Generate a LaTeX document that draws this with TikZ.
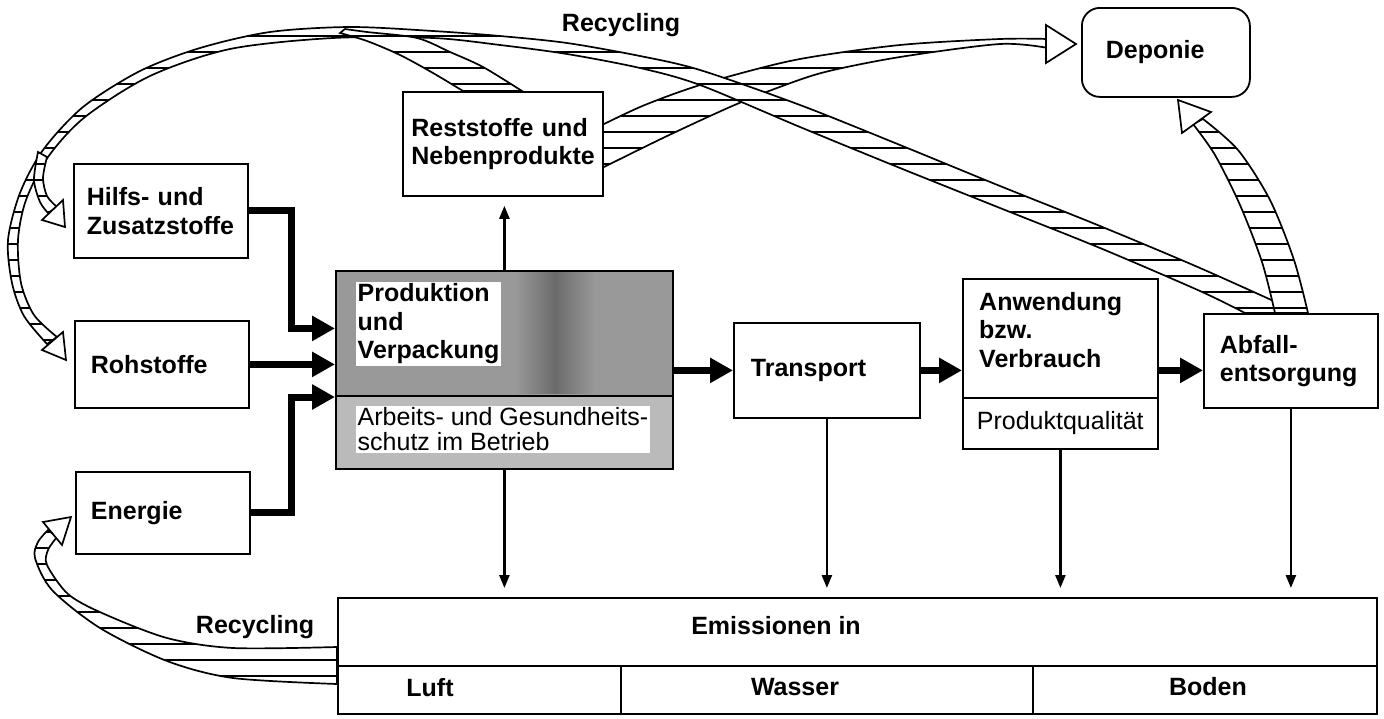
\documentclass[tikz,border=0pt]{standalone}
\usepackage{fontspec}
\setmainfont{Liberation Sans}
\usetikzlibrary{arrows.meta}
\hyphenpenalty=10000
\exhyphenpenalty=10000

\begin{document}
\begin{tikzpicture}[x=1pt,y=-1pt,
    every node/.style={font=\fontsize{25}{28.5}\selectfont\bfseries},
    txt/.style={inner sep=0pt, align=left},
    regtext/.style={font=\fontsize{25}{25}\selectfont},
    box/.style={draw, line width=1.8pt, fill=white, anchor=north west, inner xsep=0pt, inner ysep=0pt, align=left},
    flow/.style={line width=7pt, -{Triangle[length=23pt,width=24pt]}},
    emit/.style={line width=2.4pt, -{Triangle[length=13pt,width=10pt]}, shorten >=9pt},
    band/.style={draw, line width=1.7pt, fill=white,
      path picture={\foreach \yy in {4,20,...,718} \draw[line width=1.7pt] (0,\yy) -- (1384,\yy);}},
    tiphead/.style={draw, line width=1.7pt, fill=white}]
  \useasboundingbox (0,0) rectangle (1384,718);
  \fill[white] (0,0) rectangle (1384,718);

  %% Reststoffe -> Deponie (under the big loop)
  \path[band] plot[smooth] coordinates {(602,125) (640,107) (682,91) (727,77) (800,59) (900,45) (1000,39) (1048,39)}
    -- plot[smooth] coordinates {(1048,48) (1000,44) (900,57) (825,72) (777,88) (730,107) (665,137) (602,168)} -- cycle;
  \path[tiphead] (1046,25) -- (1076,44) -- (1046,63) -- cycle;

  %% Recycling loop from Abfallentsorgung
  \path[band] plot[smooth] coordinates {(1300,313) (1200,268) (1100,226) (1000,186) (900,145) (800,105) (700,70) (640,56) (567,43) (500,36) (433,31) (350,27) (270,32) (200,48) (140,71) (83,107) (43,150) (20,193) (8,240) (12,283) (24,316) (47,344)}
    -- plot[smooth] coordinates {(57,337) (34,315) (21,283) (18,240) (26,200) (48,157) (85,117) (150,76) (230,49) (333,38) (433,38) (500,45) (567,54) (640,68) (700,85) (800,127) (900,168) (1000,208) (1100,248) (1200,291) (1245,313)} -- cycle;
  \path[band] plot[smooth] coordinates {(463,91) (433,73) (400,55) (367,41) (340,33)}
    -- plot[smooth] coordinates {(345,29) (367,32) (417,38) (450,52) (483,67) (522,91)} -- cycle;
  \path[band] plot[smooth] coordinates {(38,152) (34,180) (40,202) (48,213)}
    -- plot[smooth] coordinates {(57,207) (47,196) (43,178) (47,157)} -- cycle;
  \path[tiphead] (42,220) -- (65,227) -- (63,200) -- cycle;
  \path[tiphead] (42,350) -- (66,360) -- (63,332) -- cycle;

  %% Abfallentsorgung -> Deponie
  \path[band] plot[smooth] coordinates {(1275,313) (1262,262) (1240,205) (1215,155) (1193,124)}
    -- plot[smooth] coordinates {(1203,119) (1238,150) (1270,200) (1294,260) (1308,313)} -- cycle;
  \path[tiphead] (1211,112) -- (1178,100) -- (1182,133) -- cycle;

  %% Emissionen -> Energie
  \path[band] plot[smooth] coordinates {(337,684) (233,678) (167,661) (100,628) (52,590) (35,558) (38,542) (48,530)}
    -- plot[smooth] coordinates {(57,537) (48,550) (47,565) (68,594) (102,613) (167,638) (233,648) (337,647)} -- cycle;
  \path[tiphead] (43,522) -- (71,517) -- (62,545) -- cycle;

  \node at (621,25) {Recycling};
  \node at (255,627) {Recycling};

  %% boxes
  \node[box, rounded corners=18pt, minimum width=168pt, minimum height=89pt, text width=120pt, inner xsep=24pt] (deponie) at (1081,7) {Deponie};
  \node[box, minimum width=200pt, minimum height=104pt, text width=183pt, inner xsep=8.5pt] (rest) at (402,91) {Reststoffe und\\Nebenprodukte};
  \node[box, minimum width=174pt, minimum height=94pt, text width=148pt, inner xsep=13pt] (hilfs) at (73,163) {Hilfs- und\\Zusatzstoffe};
  \node[box, minimum width=174pt, minimum height=87pt, text width=142pt, inner xsep=16pt] (roh) at (74,320) {Rohstoffe};
  \node[box, minimum width=174pt, minimum height=82pt, text width=144pt, inner xsep=15pt] (energie) at (75,471) {Energie};

  \node[box, fill=black!40, minimum width=337pt, minimum height=125pt] (prod) at (335,270) {};
  \node[box, fill=black!27, minimum width=337pt, minimum height=73pt] (prodb) at (335,395) {};
  \shade[left color=black!40, right color=black!40, middle color=black!58] (515,272) rectangle (595,393);
  \node[txt, fill=white, inner sep=1.5pt, anchor=north west] (prodtxt) at (356,282) {Produktion\\und\\Verpackung};
  \node[txt, regtext, fill=white, inner sep=1.5pt, anchor=north west] (arbtxt) at (356,406) {Arbeits- und Gesundheits-\\schutz im Betrieb};

  \node[box, minimum width=186pt, minimum height=95pt, text width=152pt, inner xsep=17pt] (transport) at (733,322) {Transport};
  \node[box, minimum width=195pt, minimum height=119pt] (anw) at (962,278) {};
  \node[txt, anchor=north west] (anwtxt) at ([xshift=17pt,yshift=-14pt]anw.north west) {Anwendung\\bzw.\\Verbrauch};
  \node[box, regtext, minimum width=195pt, minimum height=51pt, text width=167pt, inner xsep=14pt] (anwq) at (962,397) {Produktqualität};
  \node[box, minimum width=174pt, minimum height=94pt, text width=142pt, inner xsep=16pt] (abfall) at (1203,313) {Abfall-\\entsorgung};

  \node[box, minimum width=1039pt, minimum height=68pt] (emis) at (337,597) {};
  \node[box, minimum width=283pt, minimum height=48pt] (luft) at (337,665) {};
  \node[box, minimum width=412pt, minimum height=48pt] (wasser) at (620,665) {};
  \node[box, minimum width=344pt, minimum height=48pt] (boden) at (1032,665) {};
  \node (emistxt) at (776,626) {Emissionen in};
  \node (lufttxt) at (430,688) {Luft};
  \node (wassertxt) at (795,687) {Wasser};
  \node (bodentxt) at (1208,687) {Boden};

  %% material flow
  \draw[flow] (hilfs.east) -- ++(43,0) |- ([yshift=5pt]prod.west);
  \draw[flow] (roh.east) -- (roh.east -| prod.west);
  \draw[flow] (energie.east) -- ++(41,0) |- ([yshift=-2pt]prodb.north west);
  \draw[flow] (transport.west -| prod.east) -- (transport.west);
  \draw[flow] (transport.east) -- (transport.east -| anw.west);
  \draw[flow] (transport.east -| anw.east) -- (transport.east -| abfall.west);

  %% emissions
  \draw[emit] (prod.north) -- (prod.north |- rest.south);
  \draw[emit] (prodb.south) -- (prodb.south |- emis.north);
  \draw[emit] (transport.south) -- (transport.south |- emis.north);
  \draw[emit] (anwq.south) -- (anwq.south |- emis.north);
  \draw[emit] (abfall.south) -- (abfall.south |- emis.north);
\end{tikzpicture}
\end{document}
